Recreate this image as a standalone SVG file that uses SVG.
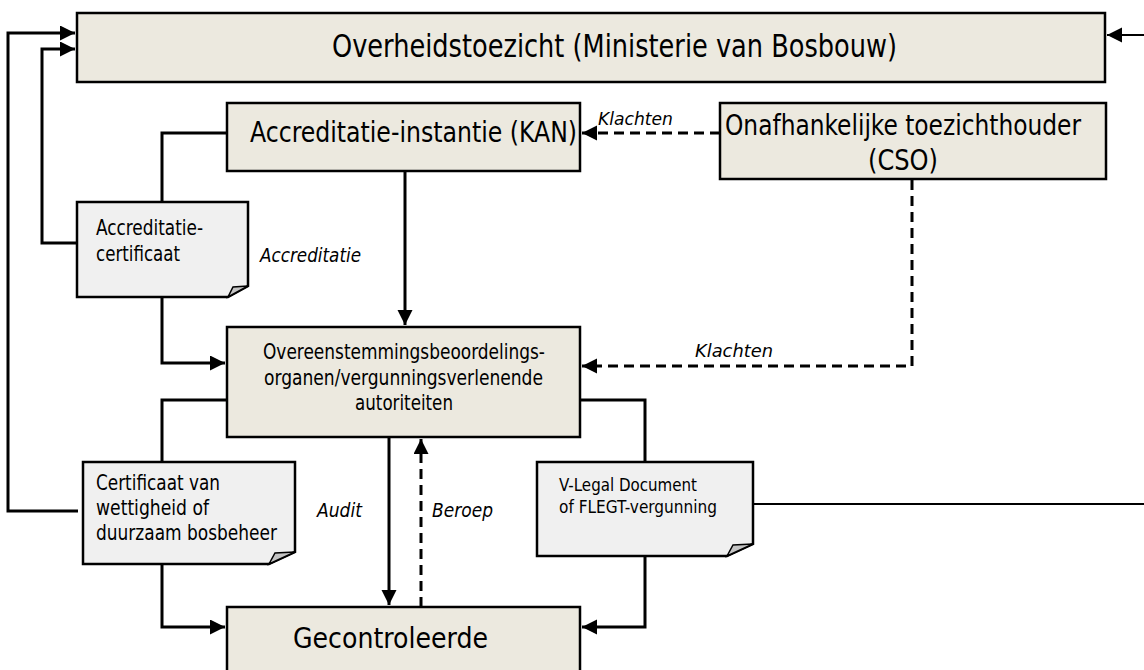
<svg xmlns="http://www.w3.org/2000/svg" width="1144" height="670" viewBox="0 0 1144 670">
<style>
.box{fill:#ECE9DF;stroke:#000;stroke-width:2.5}
.doc{fill:#F0F0F0;stroke:#000;stroke-width:2.5}
.fold{fill:#C4C4C4;stroke:#000;stroke-width:1.5}
.t{font-family:"DejaVu Sans Condensed","DejaVu Sans",sans-serif;fill:#000}
.i{font-family:"DejaVu Sans Condensed","DejaVu Sans",sans-serif;font-style:italic;fill:#000}
.ln{fill:none;stroke:#000;stroke-width:3}
.thin{fill:none;stroke:#000;stroke-width:2}
.dash{fill:none;stroke:#000;stroke-width:3;stroke-dasharray:10 6}
</style>
<defs>
<marker id="ah" markerUnits="userSpaceOnUse" markerWidth="16" markerHeight="16" refX="15" refY="7.5" orient="auto">
<path d="M0,0 L15,7.5 L0,15 Z" fill="#000"/>
</marker>
</defs>

<g id="connectors">
<polyline class="ln" points="78,511 8,511 8,33 75,33" marker-end="url(#ah)"/>
<polyline class="ln" points="78,243 42,243 42,49 75,49" marker-end="url(#ah)"/>
<line class="thin" x1="1144" y1="35" x2="1107" y2="35" marker-end="url(#ah)"/>
<polyline class="ln" points="227,133 162,133 162,363 225,363" marker-end="url(#ah)"/>
<line class="ln" x1="405" y1="171" x2="405" y2="325" marker-end="url(#ah)"/>
<line class="dash" x1="720" y1="133" x2="582" y2="133" marker-end="url(#ah)"/>
<polyline class="dash" points="912,180 912,366 582,366" marker-end="url(#ah)"/>
<polyline class="ln" points="227,400 162,400 162,627 225,627" marker-end="url(#ah)"/>
<polyline class="ln" points="580,400 645,400 645,627 582,627" marker-end="url(#ah)"/>
<line class="ln" x1="389" y1="420" x2="389" y2="605" marker-end="url(#ah)"/>
<line class="dash" x1="421" y1="607" x2="421" y2="439" marker-end="url(#ah)"/>
<line class="thin" x1="753" y1="504" x2="1144" y2="504"/>
<text class="i" x="598" y="125" font-size="17" textLength="75" lengthAdjust="spacingAndGlyphs">Klachten</text>
<text class="i" x="695" y="357" font-size="17" textLength="78" lengthAdjust="spacingAndGlyphs">Klachten</text>
<text class="i" x="260" y="262" font-size="19" textLength="101" lengthAdjust="spacingAndGlyphs">Accreditatie</text>
<text class="i" x="317" y="517" font-size="19" textLength="45" lengthAdjust="spacingAndGlyphs">Audit</text>
<text class="i" x="432" y="517" font-size="19" textLength="61" lengthAdjust="spacingAndGlyphs">Beroep</text>
</g>

<g id="overheid">
<rect class="box" x="77" y="13" width="1028" height="69"/>
<text class="t" x="332" y="57" font-size="32" textLength="565" lengthAdjust="spacingAndGlyphs">Overheidstoezicht (Ministerie van Bosbouw)</text>
</g>

<g id="kan">
<rect class="box" x="227" y="103" width="353" height="68"/>
<text class="t" x="250" y="142" font-size="28" textLength="327" lengthAdjust="spacingAndGlyphs">Accreditatie-instantie (KAN)</text>
</g>

<g id="cso">
<rect class="box" x="720" y="103" width="386" height="76"/>
<text class="t" x="725" y="135" font-size="28" textLength="356" lengthAdjust="spacingAndGlyphs">Onafhankelijke toezichthouder</text>
<text class="t" x="868" y="170" font-size="28" textLength="70" lengthAdjust="spacingAndGlyphs">(CSO)</text>
</g>

<g id="accreditatie-certificaat">
<path class="doc" d="M77,202 H248 V286 L228,297 H77 Z"/>
<path class="fold" d="M248,286 L228,297 L233,287 Z"/>
<text class="t" x="96" y="235" font-size="22" textLength="107" lengthAdjust="spacingAndGlyphs">Accreditatie-</text>
<text class="t" x="96" y="261" font-size="22" textLength="84" lengthAdjust="spacingAndGlyphs">certificaat</text>
</g>

<g id="overeen">
<rect class="box" x="227" y="327" width="353" height="110"/>
<text class="t" x="263" y="359" font-size="22" textLength="282" lengthAdjust="spacingAndGlyphs">Overeenstemmingsbeoordelings-</text>
<text class="t" x="264" y="385" font-size="22" textLength="279" lengthAdjust="spacingAndGlyphs">organen/vergunningsverlenende</text>
<text class="t" x="355" y="410" font-size="22" textLength="98" lengthAdjust="spacingAndGlyphs">autoriteiten</text>
</g>

<g id="certificaat-wettigheid">
<path class="doc" d="M83,462 H295 V552 L269,564 H83 Z"/>
<path class="fold" d="M295,552 L269,564 L275,553 Z"/>
<text class="t" x="96" y="490" font-size="22" textLength="124" lengthAdjust="spacingAndGlyphs">Certificaat van</text>
<text class="t" x="96" y="515" font-size="22" textLength="113" lengthAdjust="spacingAndGlyphs">wettigheid of</text>
<text class="t" x="96" y="540" font-size="22" textLength="181" lengthAdjust="spacingAndGlyphs">duurzaam bosbeheer</text>
</g>

<g id="v-legal">
<path class="doc" d="M537,462 H753 V544 L727,556 H537 Z"/>
<path class="fold" d="M753,544 L727,556 L733,545 Z"/>
<text class="t" x="559" y="491" font-size="18" textLength="138" lengthAdjust="spacingAndGlyphs">V-Legal Document</text>
<text class="t" x="559" y="513" font-size="18" textLength="158" lengthAdjust="spacingAndGlyphs">of FLEGT-vergunning</text>
</g>

<g id="gecontroleerde">
<rect class="box" x="227" y="607" width="353" height="80"/>
<text class="t" x="293" y="648" font-size="28" textLength="195" lengthAdjust="spacingAndGlyphs">Gecontroleerde</text>
</g>
</svg>
